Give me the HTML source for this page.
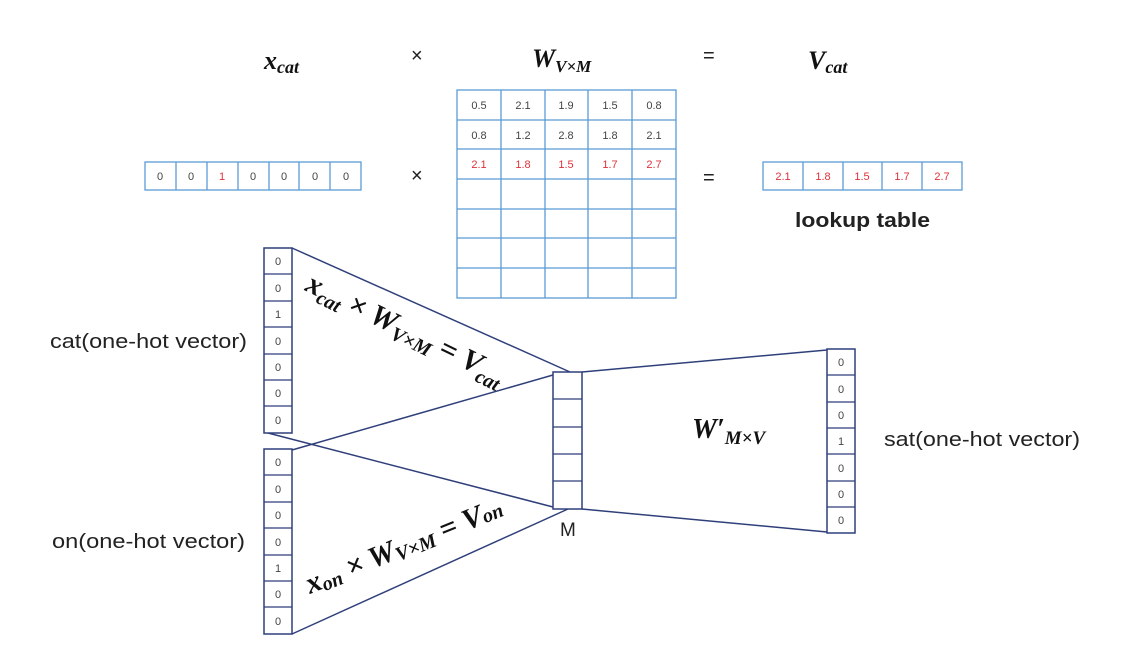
<!DOCTYPE html>
<html><head><meta charset="utf-8"><style>
html,body{margin:0;padding:0;background:#fff;width:1125px;height:662px;overflow:hidden}
svg{display:block}
.m{font-family:"Liberation Serif",serif;font-style:italic;font-weight:bold;fill:#111}
.s{font-family:"Liberation Sans",sans-serif;fill:#222}
.c{font-family:"Liberation Sans",sans-serif;font-size:11px;fill:#444;text-anchor:middle}
.r{fill:#e0303a}
</style></head><body>
<svg width="1125" height="662" viewBox="0 0 1125 662">
<text class="m" x="264" y="69" font-size="26">x<tspan font-size="18" dy="4">cat</tspan></text>
<text class="s" x="411" y="62" font-size="20">×</text>
<text class="m" x="532" y="67" font-size="26">W<tspan font-size="17" dy="5">V×M</tspan></text>
<text class="s" x="703" y="62" font-size="20">=</text>
<text class="m" x="808" y="69" font-size="26">V<tspan font-size="18" dy="4">cat</tspan></text>

<g stroke="#5b9bd5" stroke-width="1.3" fill="none">
<rect x="457" y="90" width="219" height="208"/>
<line x1="501" y1="90" x2="501" y2="298"/><line x1="545" y1="90" x2="545" y2="298"/><line x1="588" y1="90" x2="588" y2="298"/><line x1="632" y1="90" x2="632" y2="298"/>
<line x1="457" y1="120" x2="676" y2="120"/><line x1="457" y1="149" x2="676" y2="149"/><line x1="457" y1="179" x2="676" y2="179"/><line x1="457" y1="209" x2="676" y2="209"/><line x1="457" y1="238" x2="676" y2="238"/><line x1="457" y1="268" x2="676" y2="268"/>
<rect x="145" y="162" width="216" height="28"/>
<line x1="176" y1="162" x2="176" y2="190"/><line x1="207" y1="162" x2="207" y2="190"/><line x1="238" y1="162" x2="238" y2="190"/><line x1="269" y1="162" x2="269" y2="190"/><line x1="299" y1="162" x2="299" y2="190"/><line x1="330" y1="162" x2="330" y2="190"/>
<rect x="763" y="162" width="199" height="28"/>
<line x1="803" y1="162" x2="803" y2="190"/><line x1="843" y1="162" x2="843" y2="190"/><line x1="882" y1="162" x2="882" y2="190"/><line x1="922" y1="162" x2="922" y2="190"/>
</g>
<g class="c">
<text x="479" y="109">0.5</text><text x="523" y="109">2.1</text><text x="566" y="109">1.9</text><text x="610" y="109">1.5</text><text x="654" y="109">0.8</text>
<text x="479" y="139">0.8</text><text x="523" y="139">1.2</text><text x="566" y="139">2.8</text><text x="610" y="139">1.8</text><text x="654" y="139">2.1</text>
<text class="r" x="479" y="168">2.1</text><text class="r" x="523" y="168">1.8</text><text class="r" x="566" y="168">1.5</text><text class="r" x="610" y="168">1.7</text><text class="r" x="654" y="168">2.7</text>
<text x="160" y="180">0</text><text x="191" y="180">0</text><text class="r" x="222" y="180">1</text><text x="253" y="180">0</text><text x="284" y="180">0</text><text x="315" y="180">0</text><text x="346" y="180">0</text>
<text class="r" x="783" y="180">2.1</text><text class="r" x="823" y="180">1.8</text><text class="r" x="862" y="180">1.5</text><text class="r" x="902" y="180">1.7</text><text class="r" x="942" y="180">2.7</text>
</g>
<text class="s" x="411" y="182" font-size="20">×</text>
<text class="s" x="703" y="184" font-size="20">=</text>
<text class="s" x="795" y="227" font-size="20" font-weight="bold" textLength="135" lengthAdjust="spacingAndGlyphs">lookup table</text>

<g stroke="#2f3f7a" stroke-width="1.5" fill="none">
<line x1="292" y1="248" x2="570" y2="372"/>
<line x1="268" y1="433" x2="553" y2="507"/>
<line x1="292" y1="450" x2="553" y2="375"/>
<line x1="292" y1="634" x2="568" y2="509"/>
<line x1="582" y1="372" x2="827" y2="350"/>
<line x1="582" y1="509" x2="827" y2="532"/>
</g>
<g stroke="#2f3f7a" stroke-width="1.5" fill="#fff">
<rect x="264" y="248" width="28" height="185"/>
<rect x="264" y="449" width="28" height="185"/>
<rect x="553" y="372" width="29" height="137"/>
<rect x="827" y="349" width="28" height="184"/>
</g>
<g stroke="#2f3f7a" stroke-width="1.2">
<line x1="264" y1="274" x2="292" y2="274"/><line x1="264" y1="301" x2="292" y2="301"/><line x1="264" y1="327" x2="292" y2="327"/><line x1="264" y1="354" x2="292" y2="354"/><line x1="264" y1="380" x2="292" y2="380"/><line x1="264" y1="406" x2="292" y2="406"/>
<line x1="264" y1="475" x2="292" y2="475"/><line x1="264" y1="502" x2="292" y2="502"/><line x1="264" y1="528" x2="292" y2="528"/><line x1="264" y1="555" x2="292" y2="555"/><line x1="264" y1="581" x2="292" y2="581"/><line x1="264" y1="607" x2="292" y2="607"/>
<line x1="553" y1="399" x2="582" y2="399"/><line x1="553" y1="427" x2="582" y2="427"/><line x1="553" y1="454" x2="582" y2="454"/><line x1="553" y1="481" x2="582" y2="481"/>
<line x1="827" y1="375" x2="855" y2="375"/><line x1="827" y1="402" x2="855" y2="402"/><line x1="827" y1="428" x2="855" y2="428"/><line x1="827" y1="454" x2="855" y2="454"/><line x1="827" y1="481" x2="855" y2="481"/><line x1="827" y1="507" x2="855" y2="507"/>
</g>
<g class="c">
<text x="278" y="265">0</text><text x="278" y="292">0</text><text x="278" y="318">1</text><text x="278" y="345">0</text><text x="278" y="371">0</text><text x="278" y="397">0</text><text x="278" y="424">0</text>
<text x="278" y="466">0</text><text x="278" y="493">0</text><text x="278" y="519">0</text><text x="278" y="546">0</text><text x="278" y="572">1</text><text x="278" y="598">0</text><text x="278" y="625">0</text>
<text x="841" y="366">0</text><text x="841" y="393">0</text><text x="841" y="419">0</text><text x="841" y="445">1</text><text x="841" y="472">0</text><text x="841" y="498">0</text><text x="841" y="524">0</text>
</g>
<text class="s" x="50" y="348" font-size="20" textLength="197" lengthAdjust="spacingAndGlyphs">cat(one-hot vector)</text>
<text class="s" x="52" y="548" font-size="20" textLength="193" lengthAdjust="spacingAndGlyphs">on(one-hot vector)</text>
<text class="s" x="884" y="446" font-size="20" textLength="196" lengthAdjust="spacingAndGlyphs">sat(one-hot vector)</text>
<text class="s" x="560" y="536" font-size="19">M</text>
<text class="m" x="692" y="438" font-size="28" font-weight="normal">W′<tspan font-size="19" dy="6">M×V</tspan></text>

<text class="m" font-size="30" transform="translate(304,290) rotate(26)">x<tspan font-size="20" dy="6">cat</tspan><tspan dy="-6">  × W</tspan><tspan font-size="20" dy="6">V×M</tspan><tspan dy="-6"> = V</tspan><tspan font-size="20" dy="7">cat</tspan></text>
<text class="m" font-size="30" transform="translate(310,594) rotate(-22)">x<tspan font-size="20" dy="3">on</tspan><tspan dy="-3"> × W</tspan><tspan font-size="20" dy="3">V×M</tspan><tspan dy="-3"> = V</tspan><tspan font-size="20">on</tspan></text>
</svg>
</body></html>
